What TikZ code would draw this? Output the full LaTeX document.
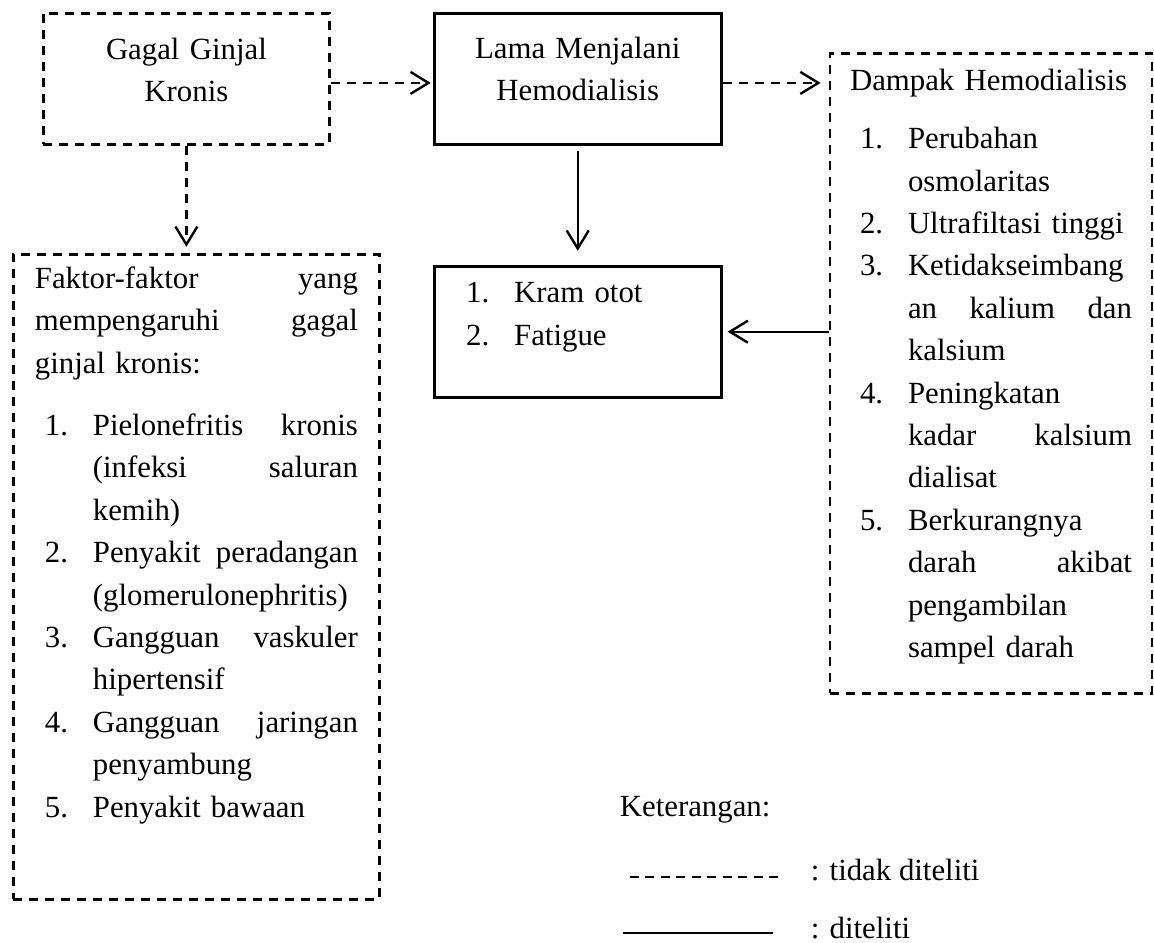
\documentclass[tikz,border=0pt]{standalone}
\usepackage{fontspec}
\setmainfont{Liberation Serif}
\usepackage{tikz}
\usetikzlibrary{positioning}
\usetikzlibrary{arrows.meta}

% list lines inside the boxes
\newcommand{\spread}[2]{{\spaceskip=0pt\xspaceskip=0pt\makebox[#1][s]{#2}}}
\newcommand{\numline}[2]{\hspace*{5pt}\makebox[24pt][l]{#1}#2}
\newcommand{\numjust}[2]{\hspace*{5pt}\makebox[24pt][l]{#1}\spread{\dimexpr\linewidth-29pt\relax}{#2}}
\newcommand{\contline}[1]{\hspace*{29pt}#1}
\newcommand{\contjust}[1]{\hspace*{29pt}\spread{\dimexpr\linewidth-29pt\relax}{#1}}
\newcommand{\fulljust}[1]{\spread{\linewidth}{#1}}

\begin{document}
\begin{tikzpicture}[
            > = {Straight Barb[length=9pt,width=11pt]}, % open arrow head
            font = \fontsize{15.4}{21.2}\selectfont,
            line width = 1.2pt
        ]

        \tikzstyle{box}=[
            draw,
            line width = 1.4pt,
            inner xsep = 11pt,
            inner ysep = 0pt
        ]
        \tikzstyle{dline}=[dash pattern = on 4.5pt off 3.5pt]

        \useasboundingbox (0,0) rectangle (577pt,-471pt);

	% top row
        \node[box, dline, text width=121pt, align=center, minimum height=65.5pt, anchor=north west] (GGK) at (21pt,-6pt)
            {Gagal Ginjal\\Kronis\par\vspace{9pt}\hrule height 0pt};
        \node[box, text width=121.5pt, align=center, minimum height=65.5pt] (LMH) [right=51pt of GGK]
            {Lama Menjalani\\Hemodialisis\par\vspace{10pt}\hrule height 0pt};
        \node[box, dline, text width=141pt, inner xsep=10pt, align=left, minimum height=320pt] (DH) [right=53pt of LMH.north east, anchor=north west, yshift=-20pt]
            {\mbox{Dampak Hemodialisis}\\[8pt]
             \numline{1.}{Perubahan}\\
             \contline{osmolaritas}\\
             \numline{2.}{Ultrafiltasi tinggi}\\
             \numline{3.}{Ketidakseimbang}\\
             \contjust{an kalium dan}\\
             \contline{kalsium}\\
             \numline{4.}{Peningkatan}\\
             \contjust{kadar kalsium}\\
             \contline{dialisat}\\
             \numline{5.}{Berkurangnya}\\
             \contjust{darah akibat}\\
             \contline{pengambilan}\\
             \contline{sampel darah}\par\vspace{7pt}\hrule height 0pt};

        % lower row
        \node[box, text width=121.5pt, align=left, minimum height=65.5pt] (KF) [below=59.5pt of LMH]
            {\numline{1.}{Kram otot}\\
             \numline{2.}{Fatigue}\par\vspace{14.5pt}\hrule height 0pt};
        \node[box, dline, text width=161.5pt, inner xsep=10.75pt, align=left, minimum height=322.5pt] (FF) [below=53.5pt of GGK, xshift=5pt]
            {\fulljust{Faktor-faktor yang}\\
             \fulljust{mempengaruhi gagal}\\
             ginjal kronis:\\[10pt]
             \numjust{1.}{Pielonefritis kronis}\\
             \contjust{(infeksi saluran}\\
             \contline{kemih)}\\
             \numjust{2.}{Penyakit peradangan}\\
             \contline{(glomerulonephritis)}\\
             \numjust{3.}{Gangguan vaskuler}\\
             \contline{hipertensif}\\
             \numjust{4.}{Gangguan jaringan}\\
             \contline{penyambung}\\
             \numline{5.}{Penyakit bawaan}\par\vspace{31.5pt}\hrule height 0pt};

        % connectors
        \path[dline,->,shorten >=1pt] ([yshift=-2pt]GGK.east) edge ([yshift=-2pt]LMH.west);
        \path[dline,->,shorten >=4pt] ([yshift=-2pt]LMH.east) edge ([yshift=-2pt]LMH.east -| DH.west);
        \path[dline,->,shorten >=3pt] (GGK.south) edge (GGK.south |- FF.north);
        \path[->,shorten <=2.5pt,shorten >=7pt] (LMH.south) edge (KF.north);
        \path[->,shorten >=2.5pt] (DH.west |- KF.east) edge (KF.east);

        % legend
        \node[anchor=base west] (KET) at (306pt,-408pt) {Keterangan:};
        \node[anchor=base west] (TD) at (401.5pt,-440pt) {: tidak diteliti};
        \node[anchor=base west] (TS) at (401.5pt,-469pt) {: diteliti};
        \draw[line width=0.9pt, dash pattern=on 4.5pt off 3.25pt] ([xshift=-12.5pt,yshift=1.5pt]TD.base west) -- ++(-75.5pt,0);
        \draw[line width=0.8pt] ([xshift=-15pt,yshift=2.5pt]TS.base west) -- ++(-75pt,0);

\end{tikzpicture}
\end{document}
